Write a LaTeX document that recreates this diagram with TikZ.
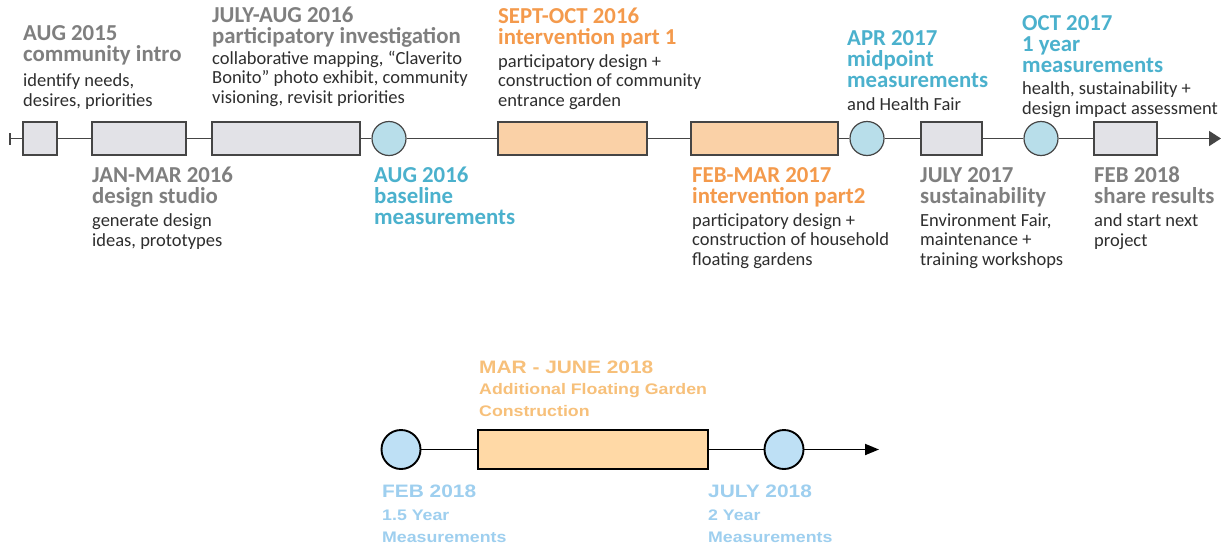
\documentclass[tikz,border=0pt]{standalone}
\usepackage{fontspec}
\setmainfont{Carlito}
\newfontfamily\lsfont[FakeStretch=1.16]{Liberation Sans}
\usetikzlibrary{arrows.meta}
\definecolor{tgray}{HTML}{7F7F7F}
\definecolor{tbody}{HTML}{2E2E2E}
\definecolor{torange}{HTML}{F49A4C}
\definecolor{tblue}{HTML}{4BB1CD}
\definecolor{boxgray}{HTML}{E2E2E7}
\definecolor{boxorange}{HTML}{FAD1A7}
\definecolor{circblue}{HTML}{B8DEEA}
\definecolor{linegray}{HTML}{454545}
\definecolor{borange}{HTML}{F7C07A}
\definecolor{bblue}{HTML}{9ECFEF}
\definecolor{bboxor}{HTML}{FFD9A6}
\definecolor{bcirc}{HTML}{BEE0F5}
\begin{document}
\begin{tikzpicture}[x=1pt,y=-1pt,
  ttl/.style={anchor=base west, inner sep=0, align=left, font=\fontsize{22.8}{21}\selectfont\bfseries},
  bdy/.style={anchor=base west, inner sep=0, align=left, text=tbody, font=\fontsize{18.5}{19.2}\selectfont},
  gbox/.style={draw=linegray, line width=1.2pt, fill=boxgray, minimum height=33pt, inner sep=0},
  obox/.style={draw=linegray, line width=1.2pt, fill=boxorange, minimum height=33pt, inner sep=0},
  circ/.style={draw=linegray, line width=1.2pt, fill=circblue, circle, minimum size=34pt, inner sep=0},
  tline/.style={draw=linegray, line width=1.6pt},
  bttl/.style={anchor=base west, inner sep=0, align=left, font=\lsfont\fontsize{18}{22}\selectfont\bfseries},
  bsub/.style={anchor=base west, inner sep=0, align=left, font=\lsfont\fontsize{15.3}{22}\selectfont\bfseries},
  bline/.style={draw=black, line width=1.9pt},
  bbox/.style={draw=black, line width=1.9pt, fill=bboxor, minimum height=39pt, inner sep=0},
  bcircle/.style={draw=black, line width=1.9pt, fill=bcirc, circle, minimum size=39pt, inner sep=0}
]
\useasboundingbox (0,0) rectangle (1228,544);
\fill[white] (0,0) rectangle (1228,544);

% ---- top timeline ----
\coordinate (s) at (9,138.5);
\coordinate (e) at (1221,138.5);
\node[gbox, minimum width=34pt] (b1) at (40,138.5) {};
\node[gbox, minimum width=94pt] (b2) at (139,138.5) {};
\node[gbox, minimum width=148pt] (b3) at (286,138.5) {};
\node[circ] (c1) at (389,138.5) {};
\node[obox, minimum width=149pt] (o1) at (572.5,138.5) {};
\node[obox, minimum width=147pt] (o2) at (764.5,138.5) {};
\node[circ] (c2) at (867,138.5) {};
\node[gbox, minimum width=61pt] (b4) at (951.5,138.5) {};
\node[circ] (c3) at (1041,138.5) {};
\node[gbox, minimum width=63pt] (b5) at (1125.5,138.5) {};
\draw[tline, {Bar[width=12pt]}-] (s) -- (b1);
\draw[tline] (b1) -- (b2);
\draw[tline] (b2) -- (b3);
\draw[tline] (b3) -- (c1);
\draw[tline] (c1) -- (o1);
\draw[tline] (o1) -- (o2);
\draw[tline] (o2) -- (c2);
\draw[tline] (c2) -- (b4);
\draw[tline] (b4) -- (c3);
\draw[tline] (c3) -- (b5);
\draw[tline, -{Triangle[length=12pt,width=15pt]}] (b5) -- (e);

% ---- top labels (anchor = baseline of last line) ----
\node[ttl, text=tgray] (t1) at (23,61) {AUG 2015\\community intro};
\node[bdy] (d1) at (23,106) {identify needs,\\desires, priorities};
\node[ttl, text=tgray] (t2) at (212,43) {JULY-AUG 2016\\participatory investigation};
\node[bdy] (d2) at (212,103) {collaborative mapping, “Claverito\\Bonito” photo exhibit, community\\visioning, revisit priorities};
\node[ttl, text=torange] (t3) at (498,44) {SEPT-OCT 2016\\intervention part 1};
\node[bdy] (d3) at (498,106) {participatory design +\\construction of community\\entrance garden};
\node[ttl, text=tblue] (t4) at (847,87) {APR 2017\\midpoint\\measurements};
\node[bdy] (d4) at (847,110) {and Health Fair};
\node[ttl, text=tblue] (t5) at (1022,72) {OCT 2017\\1 year\\measurements};
\node[bdy] (d5) at (1022,114) {health, sustainability +\\design impact assessment};

% ---- labels below ----
\node[ttl, text=tgray] (t6) at (92,203) {JAN-MAR 2016\\design studio};
\node[bdy] (d6) at (92,246) {generate design\\ideas, prototypes};
\node[ttl, text=tblue] (t7) at (374,224) {AUG 2016\\baseline\\measurements};
\node[ttl, text=torange] (t8) at (692,203) {FEB-MAR 2017\\intervention part2};
\node[bdy] (d8) at (692,265) {participatory design +\\construction of household\\floating gardens};
\node[ttl, text=tgray] (t9) at (920,203) {JULY 2017\\sustainability};
\node[bdy] (d9) at (920,265) {Environment Fair,\\maintenance +\\training workshops};
\node[ttl, text=tgray] (t10) at (1094,203) {FEB 2018\\share results};
\node[bdy] (d10) at (1094,246) {and start next\\project};

% ---- bottom timeline ----
\coordinate (e2) at (879,449.5);
\node[bcircle] (p1) at (401,449.5) {};
\node[bbox, minimum width=230pt] (q1) at (593,449.5) {};
\node[bcircle] (p2) at (784,449.5) {};
\draw[bline] (p1) -- (q1);
\draw[bline] (q1) -- (p2);
\draw[bline, -{Triangle[length=14pt,width=11pt]}] (p2) -- (e2);

\node[bttl, text=borange] (u1) at (479,373) {MAR - JUNE 2018};
\node[bsub, text=borange] (v1) at (479,416) {Additional Floating Garden\\Construction};
\node[bttl, text=bblue] (u2) at (382,497) {FEB 2018};
\node[bsub, text=bblue] (v2) at (382,542) {1.5 Year\\Measurements};
\node[bttl, text=bblue] (u3) at (708,497) {JULY 2018};
\node[bsub, text=bblue] (v3) at (708,542) {2 Year\\Measurements};
\end{tikzpicture}
\end{document}
